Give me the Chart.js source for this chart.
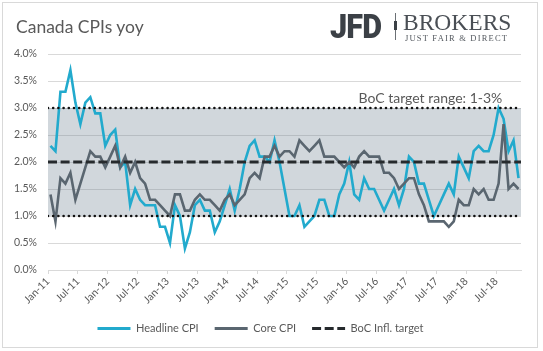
<!DOCTYPE html>
<html>
<head>
<meta charset="utf-8">
<script src="https://cdn.jsdelivr.net/npm/chart.js@4.4.0/dist/chart.umd.min.js"></script>
<style>
  html, body { margin: 0; padding: 0; background: #fff; }
  .wrap { position: relative; width: 543px; height: 351px; overflow: hidden; }
  .frame { position: absolute; left: 2px; top: 2px; width: 534px; height: 344px; border: 1px solid #d9d9d9; }
  canvas { position: absolute; left: 0; top: 0; }
  .title { position: absolute; left: 16px; top: 18px; font-family: Lato; font-size: 17.5px; line-height: 1; color: #595959; white-space: nowrap; }
  .jfd { position: absolute; left: 330px; top: 8.5px; font-family: Roboto; font-weight: 900; font-size: 34px; line-height: 1; color: #3b4046; transform: scaleX(0.9); transform-origin: left top; letter-spacing: -1px; }
  .sep { position: absolute; left: 395px; top: 13px; width: 1px; height: 27px; background: #6b7075; }
  .sep-mark { position: absolute; left: 394px; top: 21px; width: 3px; height: 9px; background: #3b4046; }
  .brokers { position: absolute; left: 403px; top: 10.5px; font-family: "Liberation Serif"; font-size: 23.5px; line-height: 1; color: #4a4f55; white-space: nowrap; }
  .tagline { position: absolute; left: 405px; top: 34px; font-family: "Liberation Serif"; font-size: 8.5px; line-height: 1; letter-spacing: 1.2px; color: #555a60; white-space: nowrap; }
</style>
</head>
<body>
<div class="wrap">
  <div class="frame"></div>
  <canvas id="chart" width="543" height="351"></canvas>
  <div class="title">Canada CPIs yoy</div>
  <div class="jfd">JFD</div>
  <div class="sep"></div>
  <div class="sep-mark"></div>
  <div class="brokers">BROKERS</div>
  <div class="tagline">JUST FAIR &amp; DIRECT</div>
</div>
<script>
// monthly, Jan-11 .. Nov-18
const tickLabels = ["Jan-11", "Jul-11", "Jan-12", "Jul-12", "Jan-13", "Jul-13", "Jan-14", "Jul-14",
  "Jan-15", "Jul-15", "Jan-16", "Jul-16", "Jan-17", "Jul-17", "Jan-18", "Jul-18"];

const headlineCPI = [
  2.3, 2.2, 3.3, 3.3, 3.7, 3.1, 2.7, 3.1, 3.2, 2.9, 2.9, 2.3,
  2.5, 2.6, 1.9, 2.0, 1.2, 1.5, 1.3, 1.2, 1.2, 1.2, 0.8, 0.8,
  0.5, 1.2, 1.0, 0.4, 0.7, 1.2, 1.3, 1.1, 1.1, 0.7, 0.9, 1.2,
  1.5, 1.1, 1.5, 2.0, 2.3, 2.4, 2.1, 2.1, 2.0, 2.4, 2.0, 1.5,
  1.0, 1.0, 1.2, 0.8, 0.9, 1.0, 1.3, 1.3, 1.0, 1.0, 1.4, 1.6,
  2.0, 1.4, 1.3, 1.7, 1.5, 1.5, 1.3, 1.1, 1.3, 1.5, 1.2, 1.5,
  2.1, 2.0, 1.6, 1.6, 1.3, 1.0, 1.2, 1.4, 1.6, 1.4, 2.1, 1.9,
  1.7, 2.2, 2.3, 2.2, 2.2, 2.5, 3.0, 2.8, 2.2, 2.4, 1.7
];

const coreCPI = [
  1.4, 0.9, 1.7, 1.6, 1.8, 1.3, 1.6, 1.9, 2.2, 2.1, 2.1, 1.9,
  2.1, 2.3, 1.9, 2.1, 1.8, 2.0, 1.7, 1.6, 1.3, 1.3, 1.2, 1.1,
  1.0, 1.4, 1.4, 1.1, 1.1, 1.3, 1.4, 1.3, 1.3, 1.2, 1.1, 1.3,
  1.4, 1.2, 1.3, 1.4, 1.7, 1.8, 1.7, 2.1, 2.1, 2.3, 2.1, 2.2,
  2.2, 2.1, 2.4, 2.3, 2.2, 2.3, 2.4, 2.1, 2.1, 2.1, 2.0, 1.9,
  2.0, 1.9, 2.1, 2.2, 2.1, 2.1, 2.1, 1.8, 1.8, 1.7, 1.5, 1.6,
  1.7, 1.7, 1.4, 1.2, 0.9, 0.9, 0.9, 0.9, 0.8, 0.9, 1.3, 1.2,
  1.2, 1.5, 1.4, 1.5, 1.3, 1.3, 1.6, 2.7, 1.5, 1.6, 1.5
];

const targetRate = 2.0;
const targetLow = 1.0;
const targetHigh = 3.0;
const bandText = "BoC target range: 1-3%";

const textColor = "#595959";
const gridColor = "#d9d9d9";
Chart.defaults.font.family = "Lato";
Chart.defaults.color = textColor;

const xMin = -0.5;
const xMax = headlineCPI.length - 0.5;

function series(values) {
  return values.map((v, i) => ({ x: i, y: v }));
}
function flat(v) {
  return [{ x: xMin, y: v }, { x: xMax, y: v }];
}

const bandLabel = {
  id: "bandLabel",
  afterDatasetsDraw(chart) {
    const { ctx, scales: { x, y } } = chart;
    ctx.save();
    ctx.font = "14px Lato";
    ctx.fillStyle = textColor;
    ctx.textAlign = "center";
    ctx.textBaseline = "alphabetic";
    ctx.fillText(bandText, x.getPixelForValue(76.3), y.getPixelForValue(targetHigh) - 5.5);
    ctx.restore();
  }
};

new Chart(document.getElementById("chart"), {
  type: "line",
  data: {
    datasets: [
      {
        label: "Headline CPI",
        data: series(headlineCPI),
        borderColor: "#22aacd",
        backgroundColor: "#22aacd",
        borderWidth: 2.6,
        order: 3
      },
      {
        label: "Core CPI",
        data: series(coreCPI),
        borderColor: "#5a6670",
        backgroundColor: "#5a6670",
        borderWidth: 2.6,
        order: 2
      },
      {
        label: "BoC Infl. target",
        data: flat(targetRate),
        borderColor: "#262a2d",
        borderWidth: 3,
        borderDash: [9, 3.6],
        order: 0
      },
      {
        label: "upper",
        data: flat(targetHigh),
        borderColor: "#111",
        borderWidth: 2.6,
        borderDash: [0, 5.2],
        borderCapStyle: "round",
        fill: { value: targetLow },
        backgroundColor: "rgba(115,135,148,0.33)",
        order: 1
      },
      {
        label: "lower",
        data: flat(targetLow),
        borderColor: "#111",
        borderWidth: 2.6,
        borderDash: [0, 5.2],
        borderCapStyle: "round",
        order: 1
      }
    ]
  },
  options: {
    responsive: false,
    devicePixelRatio: 1,
    animation: false,
    elements: { point: { radius: 0 }, line: { tension: 0 } },
    layout: { padding: { left: 0, right: 22, top: 54, bottom: 7 } },
    scales: {
      x: {
        type: "linear",
        min: xMin,
        max: xMax,
        afterBuildTicks: (s) => {
          s.ticks = tickLabels.map((_, k) => ({ value: k * 6 - 0.5 }));
        },
        afterFit: (s) => { s.height = 37; },
        ticks: {
          autoSkip: false,
          minRotation: 45,
          maxRotation: 45,
          padding: 1,
          font: { size: 10.5 },
          callback: (v, i) => tickLabels[i]
        },
        grid: { drawOnChartArea: false, drawTicks: true, tickLength: 4, color: gridColor },
        border: { display: true, color: gridColor }
      },
      y: {
        min: 0,
        max: 4,
        afterFit: (s) => { s.width = 48; },
        ticks: {
          stepSize: 0.5,
          padding: 11,
          font: { size: 10.5 },
          callback: (v) => v.toFixed(1) + "%"
        },
        grid: { color: gridColor, drawTicks: false },
        border: { display: false }
      }
    },
    plugins: {
      filler: { drawTime: "beforeDatasetsDraw" },
      tooltip: { enabled: false },
      legend: {
        position: "bottom",
        labels: {
          usePointStyle: true,
          pointStyle: "line",
          pointStyleWidth: 33,
          padding: 16,
          font: { size: 11 },
          color: textColor,
          filter: (item) => item.datasetIndex < 3,
          sort: (a, b) => a.datasetIndex - b.datasetIndex,
          generateLabels: (chart) =>
            Chart.defaults.plugins.legend.labels.generateLabels(chart).map((item) => {
              const ds = chart.data.datasets[item.datasetIndex];
              item.lineDash = ds.borderDash || [];
              item.lineWidth = 3;
              return item;
            })
        }
      }
    }
  },
  plugins: [bandLabel]
});
</script>
</body>
</html>
